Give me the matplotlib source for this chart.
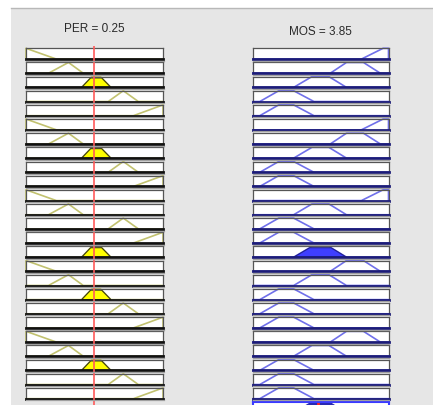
import matplotlib
matplotlib.use("Agg")
import matplotlib.pyplot as plt
from matplotlib.patches import Rectangle, Polygon
from matplotlib.lines import Line2D

# ---------------- data ----------------
per_range = [0.0, 0.5]
mos_range = [0.0, 8.0]
per_value = 0.25
mos_value = 3.85
per_title = "PER = 0.25"
mos_title = "MOS = 3.85"

# trapezoid params [a, b, c, d]
per_mf = {
    "L":  [0.0, 0.0, 0.0, 0.111],
    "T1": [0.082, 0.155, 0.155, 0.209],
    "M":  [0.203, 0.2405, 0.2715, 0.310],
    "T3": [0.300, 0.355, 0.355, 0.410],
    "R":  [0.392, 0.5, 0.5, 0.5],
}
mos_mf = {
    "P": [0.40, 1.52, 2.40, 3.60],
    "F": [2.40, 3.48, 4.48, 5.52],
    "G": [4.56, 5.52, 6.52, 7.52],
    "E": [6.40, 7.68, 8.0, 8.0],
}
rule_per = ["L", "T1", "M", "T3", "R", "L", "T1", "M", "T3", "R",
            "L", "T1", "T3", "R", "M", "L", "T1", "M", "T3", "R",
            "L", "T1", "M", "T3", "R"]
rule_mos = ["E", "G", "F", "P", "P", "E", "G", "F", "P", "P",
            "E", "F", "P", "P", "F", "G", "F", "P", "P", "P",
            "G", "F", "P", "P", "P"]
per_degree = {"M": 0.88}
rule_fire = [0, 0, 0, 0, 0, 0, 0, 0, 0, 0, 0, 0, 0, 0, 0.88,
             0, 0, 0, 0, 0, 0, 0, 0, 0, 0]
agg_mf = "F"

# ---------------- layout ----------------
W, H = 433, 406
fig = plt.figure(figsize=(W / 100, H / 100), dpi=100)
fig.patch.set_facecolor("white")
fig.add_artist(Rectangle((11 / W, 0), (W - 11) / W, (H - 8.5) / H,
                         transform=fig.transFigure, facecolor="#e6e6e6",
                         edgecolor="none", zorder=0))
fig.add_artist(Line2D([11 / W, 1], [1 - 8.5 / H, 1 - 8.5 / H],
                      transform=fig.transFigure, color="#b8b8b8", lw=1))


def px_axes(x0, top, w, h):
    return fig.add_axes([x0 / W, 1 - (top + h) / H, w / W, h / H])


def outline(params, rng):
    a, b, c, d = params
    return [rng[0], a, b, c, d, rng[1]], [0, 0, 1, 1, 0, 0]


def clipped(params, h):
    a, b, c, d = params
    return [(a, 0), (a + h * (b - a), h), (d - h * (d - c), h), (d, 0)]


def style(ax, rng, bottom_color):
    ax.set_xlim(rng)
    ax.set_ylim(0, 1)
    ax.set_xticks([])
    ax.set_yticks([])
    ax.set_facecolor("white")
    for s in ["left", "right", "top"]:
        ax.spines[s].set_color("#555555")
        ax.spines[s].set_linewidth(0.9)
    ax.spines["bottom"].set_color(bottom_color)
    ax.spines["bottom"].set_linewidth(2.0)
    for sp in ax.spines.values():
        sp.set_zorder(5)


def shadow(x0, top, w, h):
    y = 1 - (top + h + 1.6) / H
    fig.add_artist(Line2D([(x0 - 0.5) / W, (x0 + w + 0.5) / W], [y, y],
                          transform=fig.transFigure, color="#a0a0a0",
                          lw=0.9, zorder=1))


LX, LW = 26, 137
RX, RW = 253, 135.5
TOP0, PITCH, RH = 49.3, 14.15, 10.8

for i in range(len(rule_per)):
    top = TOP0 + PITCH * i
    shadow(LX, top, LW, RH)
    shadow(RX, top, RW, RH)
    axl = px_axes(LX, top, LW, RH)
    style(axl, per_range, "#111111")
    name = rule_per[i]
    xs, ys = outline(per_mf[name], per_range)
    axl.plot(xs, ys, color="#c2c270", lw=1.2, clip_on=False, zorder=3)
    if name in per_degree:
        axl.add_patch(Polygon(clipped(per_mf[name], per_degree[name]),
                              closed=True, facecolor="#ffff00",
                              edgecolor="#3a3a10", lw=0.8, zorder=4))

    axr = px_axes(RX, top, RW, RH)
    style(axr, mos_range, "#1c1c78")
    mname = rule_mos[i]
    xs, ys = outline(mos_mf[mname], mos_range)
    axr.plot(xs, ys, color="#7070ea", lw=1.2, clip_on=False, zorder=3)
    if rule_fire[i] > 0:
        axr.add_patch(Polygon(clipped(mos_mf[mname], rule_fire[i]),
                              closed=True, facecolor="#3f3fff",
                              edgecolor="#202090", lw=0.8, zorder=4))

# aggregate output axes (mostly below the visible area)
top = TOP0 + PITCH * len(rule_per)
axa = px_axes(RX, top, RW, RH)
axa.set_xlim(mos_range)
axa.set_ylim(0, 1)
axa.set_xticks([])
axa.set_yticks([])
for sp in axa.spines.values():
    sp.set_color("#3a3aff")
    sp.set_linewidth(1.5)
axa.add_patch(Polygon(clipped(mos_mf[agg_mf], 1.0), closed=True,
                      facecolor="#2828b0", edgecolor="#2828b0"))
axa.axvline(mos_value, color="#ff2020", lw=2)

# red input line overlay
axo = px_axes(LX, 47, LW, H - 47)
axo.set_xlim(per_range)
axo.set_ylim(0, 1)
axo.axis("off")
axo.patch.set_visible(False)
axo.axvline(per_value, color="#ff5a5a", lw=1.2)

# titles
fig.text((LX + LW / 2) / W, 1 - 29.5 / H, per_title, ha="center", va="center",
         fontsize=8.5, family="Liberation Sans", color="#2a2a2a")
fig.text((RX + RW / 2) / W, 1 - 32 / H, mos_title, ha="center", va="center",
         fontsize=8.5, family="Liberation Sans", color="#2a2a2a")

fig.savefig("out.png", dpi=100)
